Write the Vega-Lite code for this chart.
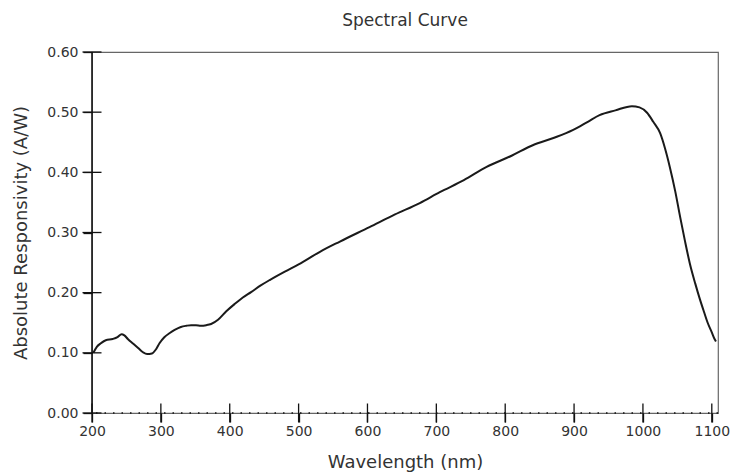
{
  "$schema": "https://vega.github.io/schema/vega-lite/v6.json",
  "autosize": {"type": "none"},
  "padding": {"left": 92, "top": 52, "right": 20, "bottom": 61},
  "width": 626,
  "height": 361,
  "background": "white",
  "config": {
    "font": "DejaVu Sans",
    "view": {"stroke": "#666666", "strokeWidth": 1.2},
    "axis": {"grid": false, "labelFont": "DejaVu Sans", "titleFont": "DejaVu Sans", "labelColor": "#333333", "titleColor": "#333333", "titleFontWeight": "normal"}
  },
  "title": {"text": "Spectral Curve", "fontSize": 17, "fontWeight": "normal", "color": "#333333", "font": "DejaVu Sans", "offset": 15, "anchor": "middle"},
  "datasets": {
    "curve": [
      {"wl": 202, "r": 0.100}, {"wl": 207, "r": 0.110}, {"wl": 213, "r": 0.116}, {"wl": 220, "r": 0.121},
      {"wl": 230, "r": 0.123}, {"wl": 237, "r": 0.126}, {"wl": 243, "r": 0.131}, {"wl": 247, "r": 0.129},
      {"wl": 252, "r": 0.123}, {"wl": 260, "r": 0.115}, {"wl": 267, "r": 0.108}, {"wl": 274, "r": 0.101},
      {"wl": 280, "r": 0.098}, {"wl": 287, "r": 0.099}, {"wl": 293, "r": 0.106}, {"wl": 298, "r": 0.116},
      {"wl": 305, "r": 0.126}, {"wl": 313, "r": 0.133}, {"wl": 320, "r": 0.138}, {"wl": 329, "r": 0.143},
      {"wl": 337, "r": 0.145}, {"wl": 344, "r": 0.146}, {"wl": 351, "r": 0.146}, {"wl": 358, "r": 0.145},
      {"wl": 366, "r": 0.146}, {"wl": 373, "r": 0.148}, {"wl": 383, "r": 0.155}, {"wl": 395, "r": 0.169},
      {"wl": 407, "r": 0.181}, {"wl": 419, "r": 0.192}, {"wl": 431, "r": 0.201}, {"wl": 445, "r": 0.212},
      {"wl": 458, "r": 0.221}, {"wl": 480, "r": 0.235}, {"wl": 500, "r": 0.247}, {"wl": 531, "r": 0.268},
      {"wl": 560, "r": 0.285}, {"wl": 603, "r": 0.309}, {"wl": 640, "r": 0.330}, {"wl": 676, "r": 0.349},
      {"wl": 705, "r": 0.367}, {"wl": 740, "r": 0.387}, {"wl": 773, "r": 0.409}, {"wl": 810, "r": 0.428},
      {"wl": 840, "r": 0.445}, {"wl": 870, "r": 0.457}, {"wl": 898, "r": 0.470}, {"wl": 920, "r": 0.484},
      {"wl": 937, "r": 0.495}, {"wl": 960, "r": 0.503}, {"wl": 984, "r": 0.510}, {"wl": 995, "r": 0.508},
      {"wl": 1006, "r": 0.499}, {"wl": 1015, "r": 0.484}, {"wl": 1025, "r": 0.465}, {"wl": 1032, "r": 0.440},
      {"wl": 1039, "r": 0.409}, {"wl": 1047, "r": 0.368}, {"wl": 1054, "r": 0.326}, {"wl": 1061, "r": 0.286},
      {"wl": 1068, "r": 0.249}, {"wl": 1076, "r": 0.215}, {"wl": 1083, "r": 0.188}, {"wl": 1089, "r": 0.167},
      {"wl": 1094, "r": 0.150}, {"wl": 1100, "r": 0.134}, {"wl": 1104, "r": 0.123}, {"wl": 1106, "r": 0.119}
    ],
    "xticks": [{"wl": 200}, {"wl": 300}, {"wl": 400}, {"wl": 500}, {"wl": 600}, {"wl": 700}, {"wl": 800}, {"wl": 900}, {"wl": 1000}, {"wl": 1100}],
    "yticks": [{"r": 0}, {"r": 0.1}, {"r": 0.2}, {"r": 0.3}, {"r": 0.4}, {"r": 0.5}, {"r": 0.6}]
  },
  "layer": [
    {
      "data": {"name": "curve"},
      "mark": {"type": "line", "color": "#1a1a1a", "strokeWidth": 2, "interpolate": "monotone"},
      "encoding": {
        "x": {"field": "wl", "type": "quantitative",
          "scale": {"domain": [200, 1109], "nice": false, "zero": false},
          "axis": {"orient": "bottom", "values": [200, 300, 400, 500, 600, 700, 800, 900, 1000, 1100], "format": "d",
            "title": "Wavelength (nm)", "titleFontSize": 18, "titlePadding": 15, "labelFontSize": 14,
            "tickSize": 9, "tickColor": "#111111", "tickWidth": 1.3, "labelPadding": 2,
            "domain": false, "labelFlush": false}},
        "y": {"field": "r", "type": "quantitative",
          "scale": {"domain": [0, 0.6], "nice": false},
          "axis": {"orient": "left", "values": [0, 0.1, 0.2, 0.3, 0.4, 0.5, 0.6], "format": ".2f",
            "title": "Absolute Responsivity (A/W)", "titleFontSize": 18, "titlePadding": 16, "labelFontSize": 14,
            "tickSize": 9, "tickColor": "#111111", "tickWidth": 1.3, "labelPadding": 5,
            "domain": false}}
      }
    },
    {
      "data": {"values": [{}]},
      "mark": {"type": "rule", "color": "#111111", "strokeWidth": 1.5},
      "encoding": {
        "x": {"datum": 200, "type": "quantitative"}
      }
    },
    {
      "data": {"values": [{}]},
      "mark": {"type": "rule", "color": "#111111", "strokeWidth": 1.5, "strokeDash": [1.5, 7]},
      "encoding": {
        "y": {"datum": 0, "type": "quantitative"}
      }
    },
    {
      "data": {"name": "xticks"},
      "mark": {"type": "tick", "orient": "vertical", "color": "#111111", "size": 19, "thickness": 1.3, "opacity": 1},
      "encoding": {
        "x": {"field": "wl", "type": "quantitative"},
        "y": {"datum": 0, "type": "quantitative"}
      }
    },
    {
      "data": {"name": "yticks"},
      "mark": {"type": "tick", "orient": "horizontal", "color": "#111111", "size": 19, "thickness": 1.3, "opacity": 1},
      "encoding": {
        "y": {"field": "r", "type": "quantitative"},
        "x": {"datum": 200, "type": "quantitative"}
      }
    }
  ]
}
